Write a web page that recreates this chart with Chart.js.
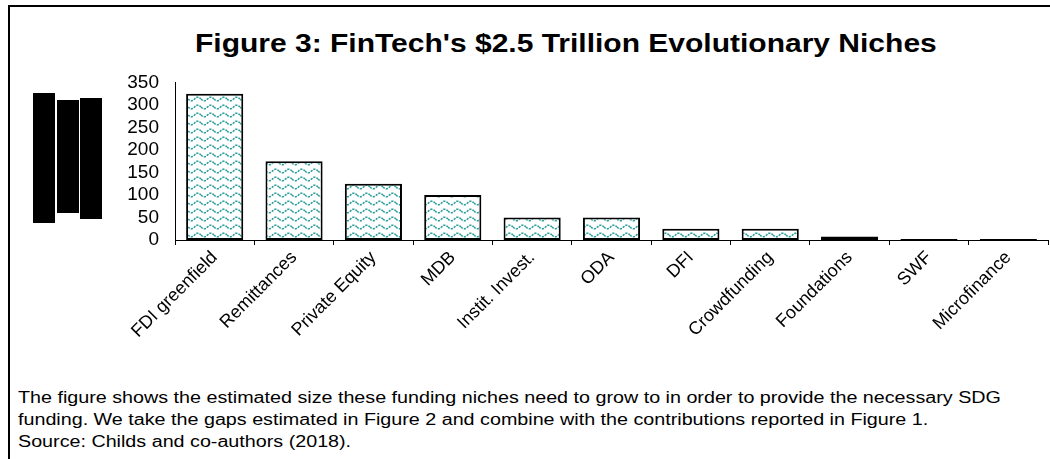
<!DOCTYPE html>
<html lang="en">
<head>
    <meta charset="UTF-8">
    <title>Figure 3</title>
    <script src="https://cdn.jsdelivr.net/npm/chart.js"></script>
    <style>
        body {
            margin: 0;
            width: 1050px;
            height: 459px;
            background: #fff;
            position: relative;
            overflow: hidden;
            font-family: "Liberation Sans", Arial, sans-serif;
        }
        .frame {
            position: absolute;
            left: 8px;
            top: 5px;
            width: 1100px;
            height: 500px;
            border-top: 2px solid #000;
            border-left: 2px solid #000;
        }
        .title {
            position: absolute;
            left: 195px;
            top: 29px;
            white-space: nowrap;
            font-weight: bold;
            font-size: 25px;
            transform: scaleX(1.2);
            transform-origin: left top;
        }
        .chart-box {
            position: absolute;
            left: 110px;
            top: 55px;
            width: 940px;
            height: 315px;
        }
        .redact {
            position: absolute;
            background: #000;
        }
        .caption {
            position: absolute;
            left: 18px;
            top: 387px;
            font-size: 16px;
            line-height: 22px;
            white-space: nowrap;
            color: #000;
            transform: scaleX(1.232);
            transform-origin: left top;
        }
    </style>
</head>
<body>
    <div class="frame"></div>
    <div class="title">Figure 3: FinTech's $2.5 Trillion Evolutionary Niches</div>
    <div class="redact" style="left:33px; top:93px; width:22px; height:130px;"></div>
    <div class="redact" style="left:57px; top:100px; width:22px; height:113px;"></div>
    <div class="redact" style="left:80px; top:98px; width:22px; height:121px;"></div>
    <div class="chart-box"><canvas id="chart"></canvas></div>
    <div class="caption">
        The figure shows the estimated size these funding niches need to grow to in order to provide the necessary SDG<br>
        funding. We take the gaps estimated in Figure 2 and combine with the contributions reported in Figure 1.<br>
        Source: Childs and co-authors (2018).
    </div>
    <script>
        // niches and estimated sizes ($bn)
        const niches = ["FDI greenfield", "Remittances", "Private Equity", "MDB", "Instit. Invest.", "ODA",
                        "DFI", "Crowdfunding", "Foundations", "SWF", "Microfinance"];
        const sizes = [325, 175, 125, 100, 50, 50, 25, 25, 8, 2, 2];
        const yMax = 350;
        const yStep = 50;

        // wavy dashed teal fill like the original
        function makePattern() {
            const c = document.createElement("canvas");
            c.width = 13;
            c.height = 8;
            const g = c.getContext("2d");
            g.fillStyle = "#ffffff";
            g.fillRect(0, 0, 13, 8);
            g.strokeStyle = "#2a9d9a";
            g.lineWidth = 1.6;
            g.setLineDash([2.2, 1.1]);
            g.beginPath();
            for (let x = 0; x <= 13; x += 0.5) {
                const y = 4 + Math.sin((x / 13) * Math.PI * 2) * 1.8;
                if (x === 0) g.moveTo(x, y); else g.lineTo(x, y);
            }
            g.stroke();
            return document.createElement("canvas").getContext("2d").createPattern(c, "repeat");
        }

        const ctx = document.getElementById("chart").getContext("2d");
        new Chart(ctx, {
            type: "bar",
            data: {
                labels: niches,
                datasets: [{
                    data: sizes,
                    backgroundColor: makePattern(),
                    borderColor: "#000",
                    borderWidth: 2,
                    borderSkipped: false,
                    barPercentage: 0.72,
                    categoryPercentage: 1
                }]
            },
            options: {
                responsive: true,
                maintainAspectRatio: false,
                animation: false,
                layout: { padding: { top: 12.6, right: 2, left: 0, bottom: 0 } },
                plugins: {
                    legend: { display: false },
                    tooltip: { enabled: false }
                },
                scales: {
                    x: {
                        afterFit: function (axis) { axis.height = 130; },
                        border: { display: true, color: "#000", width: 1 },
                        grid: {
                            display: true,
                            offset: true,
                            drawOnChartArea: false,
                            drawTicks: true,
                            tickLength: 5,
                            color: "#000"
                        },
                        ticks: {
                            minRotation: 45,
                            maxRotation: 45,
                            autoSkip: false,
                            padding: 2,
                            color: "#000",
                            font: { family: "Liberation Sans", size: 18 }
                        }
                    },
                    y: {
                        min: 0,
                        max: yMax,
                        afterFit: function (axis) { axis.width = 65; },
                        border: { display: true, color: "#000", width: 1 },
                        grid: { display: false, drawTicks: false },
                        ticks: {
                            stepSize: yStep,
                            autoSkip: false,
                            padding: 16,
                            color: "#000",
                            font: { family: "Liberation Sans", size: 19 }
                        }
                    }
                }
            }
        });
    </script>
</body>
</html>
